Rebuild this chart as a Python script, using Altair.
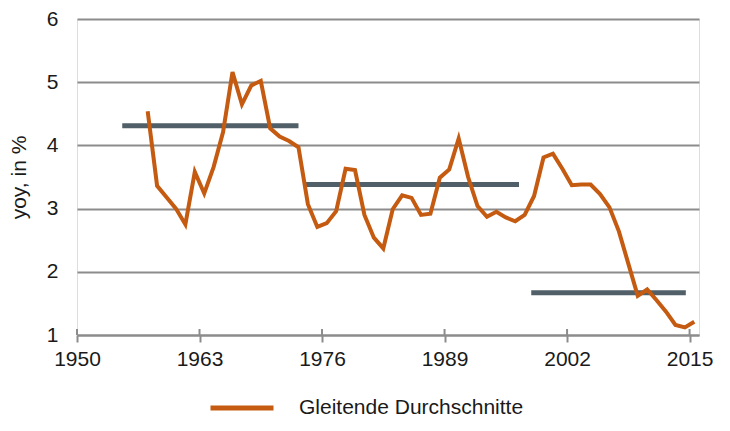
import altair as alt
import pandas as pd

years = list(range(1957, 2016))
values = [4.54, 3.36, 3.18, 3.00, 2.75, 3.58, 3.24, 3.66, 4.21, 5.16, 4.65, 4.95, 5.02,
          4.27, 4.14, 4.07, 3.97,
          3.07, 2.71, 2.77, 2.96, 3.63, 3.61, 2.90, 2.54, 2.37, 2.99, 3.21, 3.17, 2.90,
          2.92, 3.49, 3.62, 4.11, 3.50, 3.04, 2.87, 2.95, 2.86, 2.80,
          2.90, 3.20, 3.81, 3.87, 3.63, 3.37, 3.38, 3.38, 3.23, 3.02, 2.64, 2.13, 1.62,
          1.72, 1.55, 1.37, 1.16, 1.12, 1.21]

seg_start = [1954.8, 1974.2, 1998.2]
seg_end = [1973.5, 1996.9, 2014.6]
seg_value = [4.31, 3.38, 1.67]

tick_years = [1950, 1963, 1976, 1989, 2002, 2015]
y_ticks = [1, 2, 3, 4, 5, 6]
series_name = "Gleitende Durchschnitte"

line_df = pd.DataFrame({"year": years, "value": values, "series": series_name})
seg_df = pd.DataFrame({"start": seg_start, "end": seg_end, "value": seg_value})
tick_df = pd.DataFrame({"year": tick_years})

FONT = "Liberation Sans"
FS = 21
xscale = alt.Scale(domain=[1950, 2016], nice=False, zero=False)
yscale = alt.Scale(domain=[1, 6], nice=False, zero=False)

xaxis = alt.Axis(values=tick_years, format="d", title=None, grid=False,
                 domainColor="#8c8c8c", domainWidth=2, tickColor="#8c8c8c",
                 tickWidth=2, tickSize=7, labelFontSize=FS, labelFont=FONT,
                 labelColor="#1a1a1a", labelPadding=6, labelFlush=False)
yaxis = alt.Axis(values=y_ticks, format="d", title="yoy, in %", grid=True,
                 gridColor="#8c8c8c", gridWidth=2, domain=False, ticks=False,
                 labelFontSize=FS, labelFont=FONT, labelColor="#1a1a1a",
                 labelPadding=19, titleFontSize=FS, titleFont=FONT,
                 titleFontWeight="normal", titleColor="#1a1a1a", titlePadding=17)

segs = alt.Chart(seg_df).mark_rule(color="#505f68", strokeWidth=5).encode(
    x=alt.X("start:Q", scale=xscale, axis=xaxis),
    x2="end:Q",
    y=alt.Y("value:Q", scale=yscale, axis=yaxis),
)

up_ticks = alt.Chart(tick_df).mark_rule(color="#8c8c8c", strokeWidth=2).encode(
    x=alt.X("year:Q", scale=xscale, axis=xaxis),
    y=alt.value(310),
    y2=alt.value(316),
)

line = alt.Chart(line_df).transform_calculate(
    xpos="datum.year + 0.5"
).mark_line(strokeWidth=4, strokeJoin="miter").encode(
    x=alt.X("xpos:Q", scale=xscale, axis=xaxis),
    y=alt.Y("value:Q", scale=yscale, axis=yaxis),
    color=alt.Color("series:N",
                    scale=alt.Scale(domain=[series_name], range=["#c55a11"]),
                    legend=alt.Legend(title=None, orient="none", legendX=131, legendY=355,
                                      symbolType="stroke", symbolSize=3969,
                                      symbolStrokeWidth=5, labelFontSize=FS,
                                      labelFont=FONT, labelColor="#1a1a1a",
                                      labelOffset=23, labelLimit=0)),
)

chart = alt.layer(segs, up_ticks, line).properties(
    width=622, height=316,
    autosize=alt.AutoSizeParams(type="none"),
    padding={"left": 69, "top": 11, "right": 22, "bottom": 90},
).configure_view(stroke=None).configure(font=FONT).configure_axis(
    labelFontSize=FS, titleFontSize=FS
).configure_legend(labelFontSize=FS, labelLimit=0)

chart.save("out.html", embed_options={"renderer": "svg", "actions": False})
